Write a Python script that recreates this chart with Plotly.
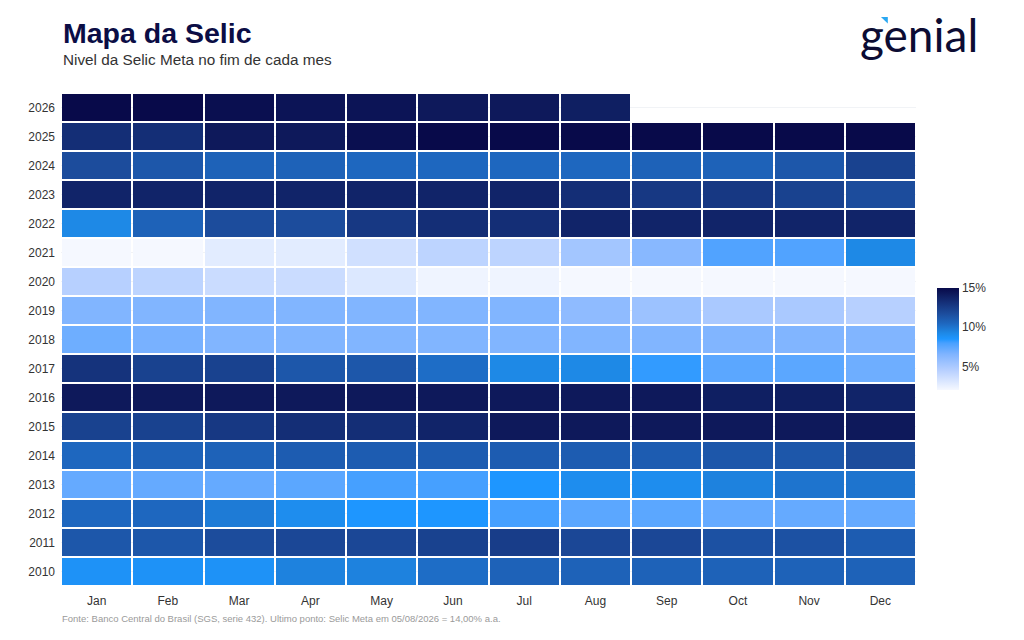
import plotly.graph_objects as go

# months and years of the map
months = ["Jan", "Feb", "Mar", "Apr", "May", "Jun", "Jul", "Aug", "Sep", "Oct", "Nov", "Dec"]
years = [str(y) for y in range(2010, 2027)]

# Selic meta at the end of each month (% a.a.), one list per year
selic_2010 = [8.75, 8.75, 8.75, 9.50, 9.50, 10.25, 10.75, 10.75, 10.75, 10.75, 10.75, 10.75]
selic_2011 = [11.25, 11.25, 11.75, 12.00, 12.00, 12.25, 12.50, 12.00, 12.00, 11.50, 11.50, 11.00]
selic_2012 = [10.50, 10.50, 9.75, 9.00, 8.50, 8.50, 8.00, 7.50, 7.50, 7.25, 7.25, 7.25]
selic_2013 = [7.25, 7.25, 7.25, 7.50, 8.00, 8.00, 8.50, 9.00, 9.00, 9.50, 10.00, 10.00]
selic_2014 = [10.50, 10.75, 10.75, 11.00, 11.00, 11.00, 11.00, 11.00, 11.00, 11.25, 11.25, 11.75]
selic_2015 = [12.25, 12.25, 12.75, 13.25, 13.25, 13.75, 14.25, 14.25, 14.25, 14.25, 14.25, 14.25]
selic_2016 = [14.25, 14.25, 14.25, 14.25, 14.25, 14.25, 14.25, 14.25, 14.25, 14.00, 14.00, 13.75]
selic_2017 = [13.00, 12.25, 12.25, 11.25, 11.25, 10.25, 9.25, 9.25, 8.25, 7.50, 7.50, 7.00]
selic_2018 = [7.00, 6.75, 6.50, 6.50, 6.50, 6.50, 6.50, 6.50, 6.50, 6.50, 6.50, 6.50]
selic_2019 = [6.50, 6.50, 6.50, 6.50, 6.50, 6.50, 6.50, 6.00, 5.50, 5.00, 5.00, 4.50]
selic_2020 = [4.50, 4.25, 3.75, 3.75, 3.00, 2.25, 2.25, 2.00, 2.00, 2.00, 2.00, 2.00]
selic_2021 = [2.00, 2.00, 2.75, 2.75, 3.50, 4.25, 4.25, 5.25, 6.25, 7.75, 7.75, 9.25]
selic_2022 = [9.25, 10.75, 11.75, 11.75, 12.75, 13.25, 13.25, 13.75, 13.75, 13.75, 13.75, 13.75]
selic_2023 = [13.75, 13.75, 13.75, 13.75, 13.75, 13.75, 13.75, 13.25, 12.75, 12.75, 12.25, 11.75]
selic_2024 = [11.75, 11.25, 10.75, 10.75, 10.50, 10.50, 10.50, 10.50, 10.75, 10.75, 11.25, 12.25]
selic_2025 = [13.25, 13.25, 14.25, 14.25, 14.75, 15.00, 15.00, 15.00, 15.00, 15.00, 15.00, 15.00]
selic_2026 = [15.00, 15.00, 14.75, 14.50, 14.50, 14.25, 14.25, 14.00, None, None, None, None]

z = [selic_2010, selic_2011, selic_2012, selic_2013, selic_2014, selic_2015,
     selic_2016, selic_2017, selic_2018, selic_2019, selic_2020, selic_2021,
     selic_2022, selic_2023, selic_2024, selic_2025, selic_2026]

# colorbar ticks
bar_ticks = [5, 10, 15]
bar_labels = ["5%", "10%", "15%"]

# white -> light blue -> dodger blue -> navy
scale = [
    [0.0, "#f5f8ff"],
    [0.19, "#b8d0ff"],
    [0.35, "#80b4ff"],
    [0.46, "#48a0ff"],
    [0.50, "#1e96ff"],
    [0.56, "#1e88e5"],
    [0.65, "#1e68c0"],
    [0.75, "#1c4c9c"],
    [0.865, "#142e76"],
    [0.94, "#0e1a5c"],
    [1.0, "#080a4a"],
]

navy = "#0b0d45"
font = "Liberation Sans, Arial, sans-serif"

fig = go.Figure(go.Heatmap(
    z=z, x=months, y=years,
    zmin=2, zmax=15,
    colorscale=scale,
    xgap=2, ygap=2,
    hovertemplate="%{x} %{y}: %{z:.2f}%<extra></extra>",
    colorbar=dict(
        x=1.013, xanchor="left", xpad=10,
        y=0.501, yanchor="middle",
        len=122, lenmode="pixels",
        thickness=22,
        outlinewidth=0,
        tickvals=bar_ticks,
        ticktext=bar_labels,
        ticks="",
        tickfont=dict(size=12, color="#333333", family=font),
    ),
))

fig.update_layout(
    width=1024, height=640,
    margin=dict(l=53, r=116, t=85, b=62),
    paper_bgcolor="white",
    plot_bgcolor="white",
    font=dict(family=font, color="#333333"),
    xaxis=dict(showgrid=False, zeroline=False, ticks="", tickfont=dict(size=12),
               ticklabelstandoff=6),
    yaxis=dict(showgrid=True, gridcolor="#f1f3f6", zeroline=False, ticks="",
               type="category", tickfont=dict(size=12), ticklabelstandoff=5),
)

fig.add_annotation(text="<b>Mapa da Selic</b>", xref="paper", yref="paper",
                   x=0, y=1.122, xanchor="left", yanchor="middle", showarrow=False,
                   font=dict(size=28.5, color=navy, family=font))
fig.add_annotation(text="Nivel da Selic Meta no fim de cada mes", xref="paper", yref="paper",
                   x=0, y=1.067, xanchor="left", yanchor="middle", showarrow=False,
                   font=dict(size=15.3, color="#333333", family=font))
fig.add_annotation(text="Fonte: Banco Central do Brasil (SGS, serie 432). Ultimo ponto: Selic Meta em 05/08/2026 = 14,00% a.a.",
                   xref="paper", yref="paper", x=-0.001, y=-0.065,
                   xanchor="left", yanchor="middle", showarrow=False,
                   font=dict(size=9.5, color="#9a9a9a", family=font))

# logo
fig.add_annotation(text="genial", xref="paper", yref="paper",
                   x=1.075, y=1.119, xanchor="right", yanchor="middle", showarrow=False,
                   font=dict(size=46, color="#0c0c33", family="Lato, Noto Sans, sans-serif"))
fig.add_shape(type="path", xref="paper", yref="paper",
              path="M 0.959 1.154 L 0.967 1.154 L 0.967 1.141 Z",
              fillcolor="#2aa8f2", line=dict(width=0))

fig.write_html("out.html")
